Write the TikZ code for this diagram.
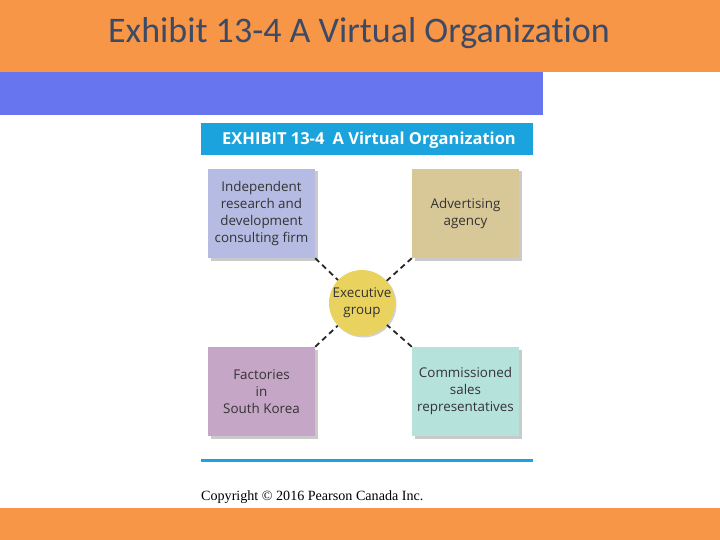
\documentclass[tikz,border=0pt]{standalone}
\usepackage{fontspec}
\setmainfont{Carlito}[Ligatures=NoCommon]
\newfontfamily\boxfont{Open Sans}
\newfontfamily\copyfont{Liberation Serif}
\usetikzlibrary{shadows}
\definecolor{bandorange}{HTML}{F79646}
\definecolor{bandblue}{HTML}{6775EE}
\definecolor{titlegray}{HTML}{3C4A66}
\definecolor{exhibitblue}{HTML}{1AA3DC}
\definecolor{lavender}{HTML}{B5BBE2}
\definecolor{tan}{HTML}{D8C898}
\definecolor{mauve}{HTML}{C6A6C6}
\definecolor{teal}{HTML}{B6E2DC}
\definecolor{execyellow}{HTML}{E9D35E}
\tikzset{
  partner/.style={minimum width=107pt, minimum height=89pt, inner sep=0pt, align=center,
    font=\boxfont\fontsize{13.4}{17}\selectfont, text=black!80,
    drop shadow={shadow xshift=2.5pt, shadow yshift=-2.5pt, opacity=0.35, fill=black!60}},
  link/.style={line width=1.8pt, dash pattern=on 5.5pt off 4pt, black!85}
}

\begin{document}
\begin{tikzpicture}[x=1pt,y=-1pt]
\useasboundingbox (0,0) rectangle (720,540);
\fill[bandorange] (0,0) rectangle (720,72);
\fill[bandblue] (0,72) rectangle (543,115);
\fill[bandorange] (0,508) rectangle (720,540);
\node[font=\fontsize{36}{42}\selectfont, text=titlegray] (title) at (359,33) {Exhibit 13-4 A Virtual Organization};
\fill[exhibitblue] (201,123) rectangle (533,155);
\node[font=\boxfont\bfseries\fontsize{16.5}{19}\selectfont, text=white] (exhibit) at (369,140.5) {EXHIBIT 13-4\enspace A Virtual Organization};
\node[partner, fill=lavender] (research) at (261.5,213.5) {Independent\\research and\\development\\consulting firm};
\node[partner, fill=tan] (agency) at (465.5,213.5) {Advertising\\agency};
\node[partner, fill=mauve] (factories) at (261.5,391.5) {Factories\\in\\South Korea};
\node[partner, fill=teal] (sales) at (465.5,391.5) {Commissioned\\sales\\representatives};
\node[circle, fill=execyellow, minimum size=66pt, inner sep=0pt, align=center,
  font=\boxfont\fontsize{13.4}{17}\selectfont, text=black!80,
  drop shadow={shadow xshift=1.5pt, shadow yshift=-1.5pt, opacity=0.3, fill=black!60}] (exec) at (362,303) {Executive\\group};
\draw[link] (research.south east) -- (exec);
\draw[link] (agency.south west) -- (exec);
\draw[link] (factories.north east) -- (exec);
\draw[link] (sales.north west) -- (exec);
\draw[exhibitblue, line width=3pt] (201,460) -- (533,460);
\node[font=\copyfont\fontsize{14.1}{16}\selectfont, anchor=west, inner sep=0pt] (copyright) at (201,497) {Copyright \textcopyright{} 2016 Pearson Canada Inc.};
\end{tikzpicture}
\end{document}
